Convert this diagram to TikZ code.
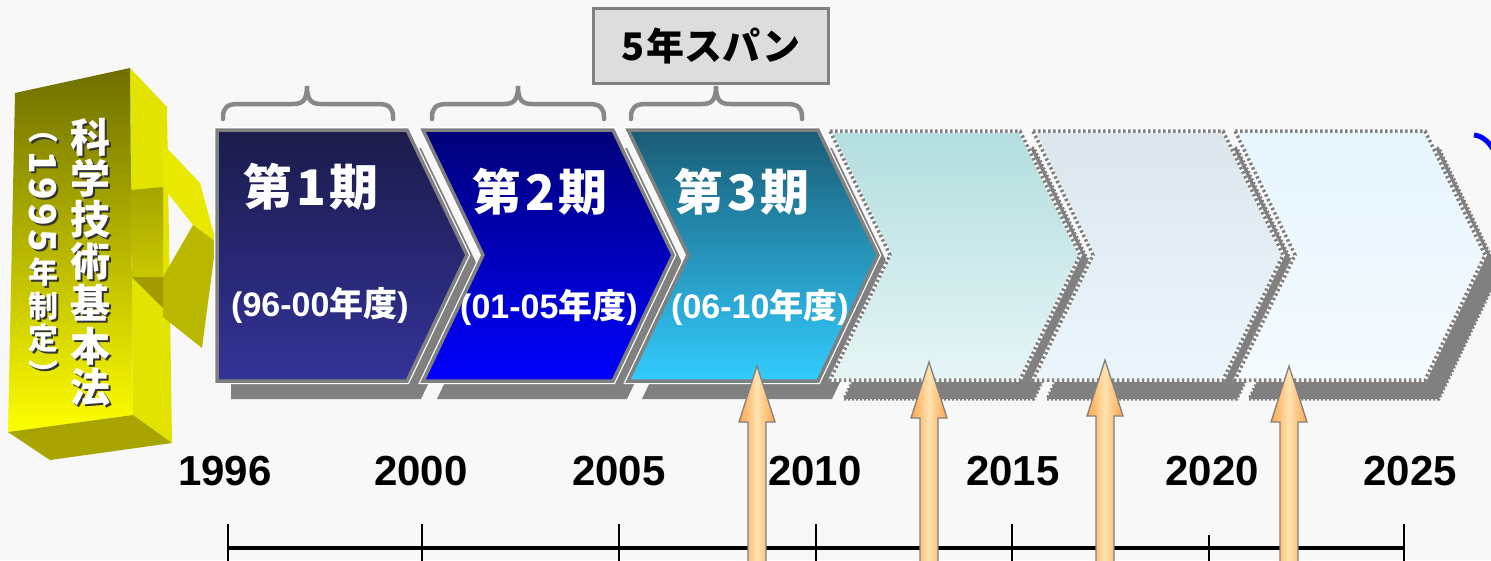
\documentclass[tikz,border=0pt]{standalone}
\usepackage{fontspec}
\newfontfamily\jp{Noto Sans CJK JP}
\newfontfamily\ar{Liberation Sans}
\definecolor{bg}{HTML}{F8F8F8}
\definecolor{shgray}{HTML}{808080}
\definecolor{edgegray}{HTML}{808080}
\definecolor{c1t}{HTML}{1B1B4B}\definecolor{c1b}{HTML}{333399}
\definecolor{c2t}{HTML}{000078}\definecolor{c2b}{HTML}{0000FF}
\definecolor{c3t}{HTML}{1A5C76}\definecolor{c3b}{HTML}{33CCFF}
\definecolor{c4t}{HTML}{B3DEDF}\definecolor{c4b}{HTML}{E6F5F5}
\definecolor{c5t}{HTML}{DCE7ED}\definecolor{c5b}{HTML}{EAF6FC}
\definecolor{c6t}{HTML}{E6F5FD}\definecolor{c6b}{HTML}{F5FBFF}
\definecolor{yolive}{HTML}{6E6E00}\definecolor{yyel}{HTML}{FFFF00}
\definecolor{yside}{HTML}{E3E300}\definecolor{ybot}{HTML}{A8A400}
\definecolor{yhead}{HTML}{E8E800}\definecolor{yheadlow}{HTML}{B8B800}
\definecolor{yunder}{HTML}{A09C00}
\definecolor{aorange}{HTML}{FFA54A}\definecolor{alight}{HTML}{FFE2B0}
\definecolor{boxfill}{HTML}{DDDDDD}
\definecolor{bracegray}{HTML}{888888}
\definecolor{arcblue}{HTML}{0000FF}
\tikzset{
  bracestyle/.style={draw=bracegray, line width=4.5, line cap=round},
  yearlab/.style={font=\ar\bfseries\fontsize{42}{48}\selectfont, inner sep=0},
  periodlab/.style={font=\jp\bfseries\fontsize{49}{52}\selectfont, text=white, inner sep=0},
  rangelab/.style={font=\jp\bfseries\fontsize{34}{38}\selectfont, text=white, inner sep=0},
  vbig/.style={font=\jp\bfseries\fontsize{40}{44}\selectfont, inner sep=0},
  vsmall/.style={font=\jp\bfseries\fontsize{30}{32}\selectfont, inner sep=0},
  vdigit/.style={font=\jp\bfseries\fontsize{37}{38}\selectfont, inner sep=0},
  spanbox/.style={draw=edgegray, line width=3, fill=boxfill, minimum width=235, minimum height=75, inner sep=0,
    font=\jp\bfseries\fontsize{38}{42}\selectfont},
  uparrow/.style={left color=aorange, right color=aorange, middle color=alight, draw=edgegray, line width=1.3},
}
\newcommand\myLat[1]{{\ar\bfseries #1}}
\begin{document}
\begin{tikzpicture}[x=1pt,y=-1pt]
\fill[bg] (0,0) rectangle (1491,560);
\useasboundingbox (0,0) rectangle (1491,560);

% ---- yellow 3D block ----
\fill[yside] (130,68) -- (167,107) -- (172,443) -- (133,415) -- cycle;
\fill[yhead] (162,143) -- (200,183) -- (216,242) -- (193,225) -- (163,187) -- cycle;
\fill[yheadlow] (193,225) -- (216,242) -- (202,348) -- (163,317) -- (163,277) -- cycle;
\shade[top color=yolive, bottom color=yyel] (15,93) -- (130,68) -- (133,415) -- (8,432) -- cycle;
\shade[top color=yolive!62!yyel, bottom color=yolive!38!yyel] (131,190) -- (163,187) -- (163,277) -- (132,277) -- cycle;
\fill[yunder] (132,277) -- (163,277) -- (163,308) -- cycle;
\fill[ybot] (8,432) -- (50,460) -- (172,443) -- (133,415) -- cycle;

% vertical texts
\foreach \c/\yy in {科/137, 学/178, 技/219, 術/261, 基/303, 本/346, 法/387} {
  \node[vbig, text=black!80] at (92,\yy+2) {\c};
  \node[vbig, text=white] at (90,\yy) {\c};
}
\foreach \c/\yy in {︵/138, 年/272, 制/306, 定/338, ︶/373} {
  \node[vsmall, text=black!80] at (45,\yy+2) {\c};
  \node[vsmall, text=white] at (43,\yy) {\c};
}
\foreach \c/\yy in {1/163, 9/189, 9/215, 5/241} {
  \node[vdigit, text=black!80, rotate=-90] at (45,\yy+2) {\c};
  \node[vdigit, text=white, rotate=-90] at (43,\yy) {\c};
}

% ---- chevrons (solid) ----
\foreach \x/\nt/\tc/\bc in {217/0/c1t/c1b, 423/60/c2t/c2b, 628/60/c3t/c3b} {
  \fill[shgray] (\x+14,148) -- (\x+204,148) -- (\x+264,273) -- (\x+204,399) -- (\x+14,399) -- (\x+14+\nt,273) -- cycle;
  \draw[white, line width=6] (\x,130) -- (\x+190,130) -- (\x+250,255) -- (\x+190,381) -- (\x,381) -- (\x+\nt,255) -- cycle;
  \shadedraw[top color=\tc, bottom color=\bc, draw=edgegray, line width=3.5] (\x,130) -- (\x+190,130) -- (\x+250,255) -- (\x+190,381) -- (\x,381) -- (\x+\nt,255) -- cycle;
}
% ---- chevrons (dotted) ----
\foreach \x/\tc/\bc in {830/c4t/c4b, 1033/c5t/c5b, 1235/c6t/c6b} {
  \filldraw[shgray, draw=shgray, line width=3, dash pattern=on 2pt off 2pt] (\x+14,148) -- (\x+204,148) -- (\x+264,273) -- (\x+204,399) -- (\x+14,399) -- (\x+74,273) -- cycle;
  \shade[top color=\tc, bottom color=\bc] (\x,131) -- (\x+190,131) -- (\x+250,255) -- (\x+190,380) -- (\x,380) -- (\x+60,255) -- cycle;
  \draw[white, line width=3.5] (\x,131) -- (\x+190,131) -- (\x+250,255) -- (\x+190,380) -- (\x,380) -- (\x+60,255) -- cycle;
  \draw[edgegray, line width=3.5, dash pattern=on 2.5pt off 2.5pt] (\x,131) -- (\x+190,131) -- (\x+250,255) -- (\x+190,380) -- (\x,380) -- (\x+60,255) -- cycle;
}

% chevron labels
\node[periodlab] (p1) at (311,187) {第\hspace{4pt}1\hspace{4pt}期};
\node[periodlab] (p2) at (540,192) {第\hspace{4pt}2\hspace{4pt}期};
\node[periodlab] (p3) at (742,192) {第\hspace{4pt}3\hspace{4pt}期};
\node[rangelab] (r1) at (320,305) {\myLat{(96-00}年度\myLat{)}};
\node[rangelab] (r2) at (549,307) {\myLat{(01-05}年度\myLat{)}};
\node[rangelab] (r3) at (760,307) {\myLat{(06-10}年度\myLat{)}};

% ---- braces ----
\foreach \a/\b/\m/\t in {223/393/307/86, 432/604/518/86, 631/802/716/86} {
  \draw[bracestyle] (\a,119) -- (\a,117) .. controls (\a,108) and (\a+4,104) .. (\a+15,104) -- (\m-14,104)
    .. controls (\m-5,104) and (\m,101) .. (\m,\t) .. controls (\m,101) and (\m+5,104) .. (\m+14,104)
    -- (\b-15,104) .. controls (\b-4,104) and (\b,108) .. (\b,117) -- (\b,119);
}
\node[spanbox] (span) at (711,46) {5\hspace{2pt}年スパン};

% ---- blue arc at right edge ----
\draw[arcblue, line width=5] (1474,135) .. controls (1482,136) and (1488,141) .. (1493,149);

% ---- timeline ----
\draw[line width=4.5] (228,548) -- (1403,548);
\foreach \tx/\ty in {228/524, 422/524, 619/524, 816/524, 1012/524, 1209/535, 1404/524}
  \draw[line width=2] (\tx,\ty) -- (\tx,565);
\foreach \yr/\tx in {1996/225, 2000/421, 2005/619, 2010/815, 2015/1013, 2020/1212, 2025/1410}
  \node[yearlab] (y\yr) at (\tx,471) {\yr};

% ---- orange arrows ----
\foreach \ax/\ay in {757/366, 929/362, 1105/360, 1289/366} {
  \shadedraw[uparrow] (\ax,\ay) -- (\ax+18,\ay+56) -- (\ax+9,\ay+56) -- (\ax+9,566) -- (\ax-9,566) -- (\ax-9,\ay+56) -- (\ax-18,\ay+56) -- cycle;
}
\end{tikzpicture}
\end{document}
